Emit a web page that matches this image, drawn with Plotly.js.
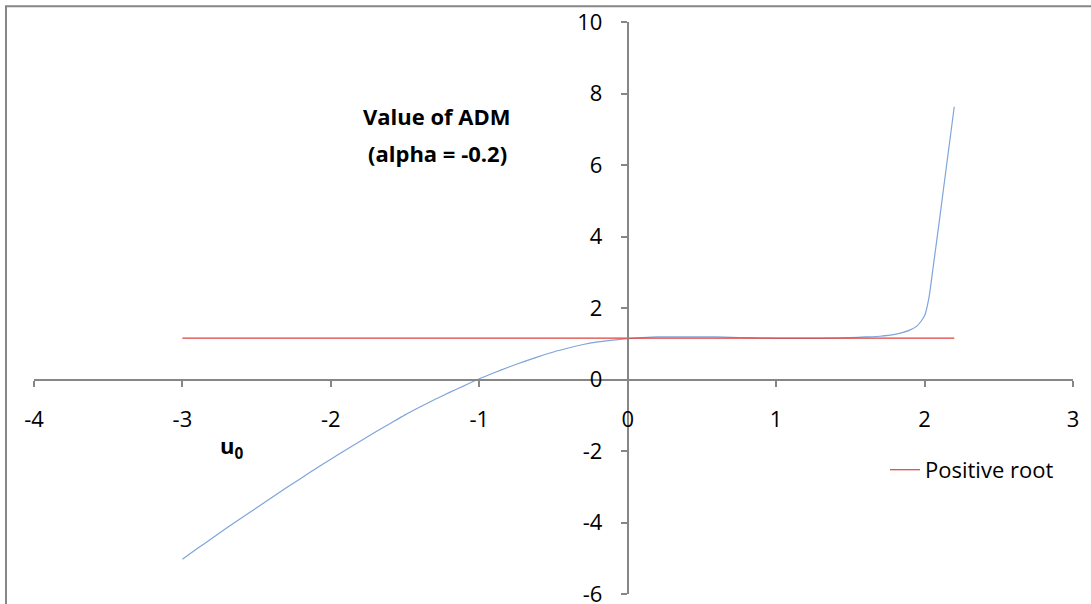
<!DOCTYPE html>
<html>
<head>
<meta charset="utf-8">
<script src="https://cdn.plot.ly/plotly-3.0.1.min.js"></script>
<style>html,body{margin:0;padding:0;background:#fff;}#chart{width:1091px;height:604px;}</style>
</head>
<body>
<div id="chart"></div>
<script>
// u0 values and ADM values
const u0 = [-3.0,-2.9,-2.8,-2.7,-2.6,-2.5,-2.4,-2.3,-2.2,-2.1,-2.0,-1.9,-1.8,-1.7,-1.6,-1.5,-1.4,-1.3,-1.2,-1.1,-1.0,-0.9,-0.8,-0.7,-0.6,-0.5,-0.4,-0.3,-0.2,-0.1,0.0,0.1,0.2,0.3,0.4,0.5,0.6,0.7,0.8,0.9,1.0,1.1,1.2,1.3,1.4,1.5,1.6,1.7,1.8,1.85,1.9,1.95,2.0,2.03,2.05,2.1,2.15,2.2];
const adm = [-5.03,-4.73,-4.44,-4.15,-3.87,-3.59,-3.31,-3.03,-2.76,-2.49,-2.23,-1.97,-1.72,-1.47,-1.23,-0.99,-0.77,-0.56,-0.36,-0.17,0.02,0.19,0.35,0.50,0.64,0.77,0.88,0.98,1.05,1.10,1.14,1.17,1.19,1.19,1.19,1.19,1.19,1.18,1.17,1.16,1.15,1.15,1.15,1.15,1.16,1.17,1.19,1.21,1.26,1.31,1.38,1.50,1.78,2.30,2.90,4.45,6.05,7.63];
// positive root line
const rootX = [-3.0, 2.2];
const rootY = [1.16, 1.16];
const xTicks = [-4,-3,-2,-1,0,1,2,3];
const yTicks = [-6,-4,-2,0,2,4,6,8,10];
const titleLine1 = "<b>Value of ADM</b>";
const titleLine2 = "<b>(alpha = -0.2)</b>";
const xLabel = "<b>u<sub>0</sub></b>";
const legendName = "Positive root";

const font = "Open Sans, Liberation Sans, sans-serif";
const FS = 22;
const traces = [
  {x: u0, y: adm, type: 'scatter', mode: 'lines', line: {color: '#7fa5da', width: 1.2, shape: 'spline', smoothing: 0.6}, showlegend: false, hoverinfo: 'x+y'},
  {x: rootX, y: rootY, type: 'scatter', mode: 'lines', name: legendName, line: {color: '#e0413b', width: 1.2}}
];
const axisCommon = {showgrid: false, zeroline: false, showline: true, linecolor: '#868686', linewidth: 2,
  ticks: 'outside', ticklen: 6, tickwidth: 2, tickcolor: '#868686', tickfont: {family: font, size: FS, color: '#000'},
  anchor: 'free', ticklabeloverflow: 'allow'};
const py = v => (594.2 - v) / 572.5;
const px = v => (v - 34) / 1039;
const layout = {
  width: 1091, height: 604,
  margin: {l: 34, r: 18, t: 22, b: 10},
  paper_bgcolor: '#fff', plot_bgcolor: 'rgba(0,0,0,0)',
  font: {family: font, color: '#000'},
  xaxis: Object.assign({}, axisCommon, {range: [-4, 3], tickvals: xTicks, ticktext: xTicks.map(String), position: 0.375, ticklabelstandoff: 14}),
  yaxis: Object.assign({}, axisCommon, {range: [-6, 10], tickvals: yTicks, ticktext: yTicks.map(String), position: 4/7, ticklabelstandoff: 14}),
  showlegend: true,
  legend: {x: px(885), y: py(470), xanchor: 'left', yanchor: 'middle', bgcolor: 'rgba(0,0,0,0)', font: {family: font, size: FS, color: '#000'}},
  annotations: [
    {text: titleLine1, xref: 'paper', yref: 'paper', x: px(437), y: py(116), xanchor: 'center', yanchor: 'middle', showarrow: false, font: {family: font, size: FS, color: '#000'}},
    {text: titleLine2, xref: 'paper', yref: 'paper', x: px(437), y: py(153), xanchor: 'center', yanchor: 'middle', showarrow: false, font: {family: font, size: FS, color: '#000'}},
    {text: xLabel, xref: 'paper', yref: 'paper', x: px(231), y: py(447), xanchor: 'center', yanchor: 'middle', showarrow: false, font: {family: font, size: FS, color: '#000'}}
  ],
  shapes: [
    {type: 'rect', xref: 'paper', yref: 'paper', x0: px(6), x1: 1.2, y0: -0.2, y1: py(6), line: {color: '#868686', width: 2}}
  ]
};
Plotly.newPlot('chart', traces, layout, {displayModeBar: false, staticPlot: true});
</script>
</body>
</html>
